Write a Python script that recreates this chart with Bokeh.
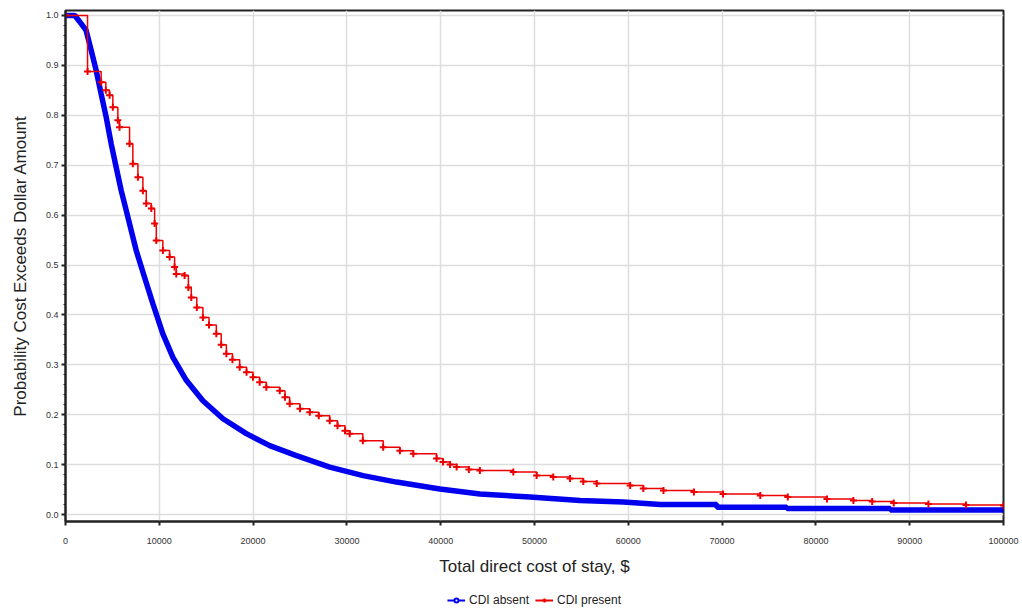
from bokeh.plotting import figure
from bokeh.layouts import column
from bokeh.models import (Legend, LegendItem, FixedTicker, NumeralTickFormatter,
                          BasicTickFormatter, Range1d)
from bokeh.embed import file_html
from bokeh.resources import INLINE

# --- Data ---
absent_cost = [0, 1000, 1490, 2200, 2740, 3270, 3800, 4340, 4870, 5400, 5940, 6480,
               7010, 7540, 8250, 9320, 10380, 11450, 12880, 14650, 16790, 19280, 21770,
               24620, 28170, 31730, 35290, 39910, 44180, 49520, 54860, 59480, 63400,
               69440, 69440, 76900, 76900, 87940, 87940, 100000]
absent_prob = [1.0, 1.0, 0.988, 0.97, 0.93, 0.89, 0.843, 0.796, 0.743, 0.696, 0.649,
               0.609, 0.569, 0.529, 0.486, 0.422, 0.362, 0.315, 0.269, 0.228, 0.192,
               0.162, 0.138, 0.118, 0.095, 0.078, 0.065, 0.051, 0.041, 0.035, 0.028,
               0.025, 0.020, 0.020, 0.0146, 0.0146, 0.012, 0.012, 0.009, 0.009]

present_cost = [0, 2350, 3800, 4300, 4700, 5050, 5580, 5760, 6830, 7180, 7720, 8250,
                8610, 9150, 9500, 9680, 10380, 11100, 11630, 11810, 12700, 13100, 13410,
                14000, 14650, 15300, 16080, 16600, 17150, 17800, 18570, 19300, 19990,
                20700, 21410, 22840, 23400, 23900, 25000, 26040, 27000, 28170, 29000,
                29800, 30300, 31700, 33870, 35650, 37080, 39560, 40250, 41000, 41700,
                43000, 44180, 47740, 50230, 52000, 53790, 55200, 56640, 60200, 61600,
                63750, 67000, 70100, 74070, 77000, 81180, 84000, 86000, 88300, 92000,
                96000, 100000]
present_prob = [1.0, 0.888, 0.866, 0.85, 0.84, 0.816, 0.79, 0.776, 0.743, 0.703, 0.676,
                0.649, 0.623, 0.613, 0.583, 0.549, 0.529, 0.516, 0.496, 0.482, 0.479,
                0.455, 0.435, 0.415, 0.395, 0.38, 0.362, 0.34, 0.322, 0.31, 0.295,
                0.285, 0.275, 0.265, 0.255, 0.248, 0.235, 0.222, 0.212, 0.205, 0.198,
                0.188, 0.178, 0.168, 0.162, 0.148, 0.135, 0.128, 0.122, 0.112, 0.105,
                0.10, 0.095, 0.09, 0.088, 0.085, 0.078, 0.075, 0.072, 0.066, 0.062,
                0.058, 0.052, 0.048, 0.045, 0.041, 0.038, 0.035, 0.031, 0.028, 0.026,
                0.023, 0.021, 0.019, 0.018]

series_labels = ["CDI absent", "CDI present"]
x_ticks = [0, 10000, 20000, 30000, 40000, 50000, 60000, 70000, 80000, 90000, 100000]
y_ticks = [0.0, 0.1, 0.2, 0.3, 0.4, 0.5, 0.6, 0.7, 0.8, 0.9, 1.0]

BLUE = "#0000ee"
RED = "#ee0000"

p = figure(frame_width=938, frame_height=511, output_backend="svg", toolbar_location=None,
           x_range=Range1d(0, 100000), y_range=Range1d(-0.014, 1.01))
p.min_border_left = 65
p.min_border_right = 19
p.min_border_top = 10
p.min_border_bottom = 68

p.outline_line_color = "#222222"
p.outline_line_width = 2

# Grid
p.xgrid.ticker = FixedTicker(ticks=x_ticks)
p.ygrid.ticker = FixedTicker(ticks=y_ticks)
p.xgrid.grid_line_color = "#dddddd"
p.ygrid.grid_line_color = "#dddddd"
p.xgrid.grid_line_width = 1.5
p.ygrid.grid_line_width = 1.5

# Axes
p.xaxis.ticker = FixedTicker(ticks=x_ticks)
p.yaxis.ticker = FixedTicker(ticks=y_ticks,
                             minor_ticks=[round(i * 0.02, 2) for i in range(51)])
p.xaxis.formatter = BasicTickFormatter(use_scientific=False)
p.yaxis.formatter = NumeralTickFormatter(format="0.0")
for ax in (p.xaxis, p.yaxis):
    ax.axis_line_color = "#222222"
    ax.axis_line_width = 2
    ax.major_tick_line_color = "#222222"
    ax.major_tick_line_width = 2
    ax.major_tick_in = 0
    ax.major_tick_out = 4
    ax.major_label_text_font = "Liberation Sans"
    ax.major_label_text_font_size = "9px"
    ax.major_label_text_color = "#333333"
    ax.axis_label_text_font = "Liberation Sans"
    ax.axis_label_text_font_size = "17px"
    ax.axis_label_text_font_style = "normal"
    ax.axis_label_text_color = "#222222"
p.xaxis.minor_tick_line_color = None
p.yaxis.minor_tick_line_color = "#222222"
p.yaxis.minor_tick_in = 0
p.yaxis.minor_tick_out = 2
p.xaxis.major_label_standoff = 12
p.yaxis.major_label_standoff = 3
p.xaxis.axis_label = "Total direct cost of stay, $"
p.yaxis.axis_label = "Probability Cost Exceeds Dollar Amount"
p.xaxis.axis_label_standoff = 10
p.yaxis.axis_label_standoff = 13

# Series
p.line(absent_cost, absent_prob, line_color=BLUE, line_width=5.5)
p.step(present_cost, present_prob, mode="after", line_color=RED, line_width=1.5)
p.scatter(present_cost, present_prob, marker="cross", size=7, line_color=RED, line_width=2)

# Legend strip below the chart (glyph renderers sit outside its visible range)
lg = figure(width=1022, height=22, output_backend="svg", toolbar_location=None,
            x_range=Range1d(0, 1), y_range=Range1d(0, 1), min_border=0)
lg.axis.visible = False
lg.grid.visible = False
lg.outline_line_color = None
off = [5, 6]
bl = lg.line(off, off, line_color=BLUE, line_width=2)
bm = lg.scatter(off, off, marker="circle", size=6, fill_color="white", line_color=BLUE,
                line_width=2)
rl = lg.line(off, off, line_color=RED, line_width=2)
rm = lg.scatter(off, off, marker="cross", size=7, line_color=RED, line_width=2)
legend = Legend(items=[LegendItem(label=series_labels[0], renderers=[bl, bm]),
                       LegendItem(label=series_labels[1], renderers=[rl, rm])],
                orientation="horizontal", location="center")
legend.label_text_font = "Liberation Sans"
legend.label_text_font_size = "12px"
legend.label_text_color = "#222222"
legend.label_height = 12
legend.border_line_color = None
legend.background_fill_alpha = 0
legend.glyph_width = 18
legend.glyph_height = 10
legend.spacing = 6
legend.label_standoff = 4
legend.padding = 0
legend.margin = 0
lg.add_layout(legend, "center")

layout = column(p, lg, spacing=0)
open("out.html", "w").write(file_html(layout, INLINE))
